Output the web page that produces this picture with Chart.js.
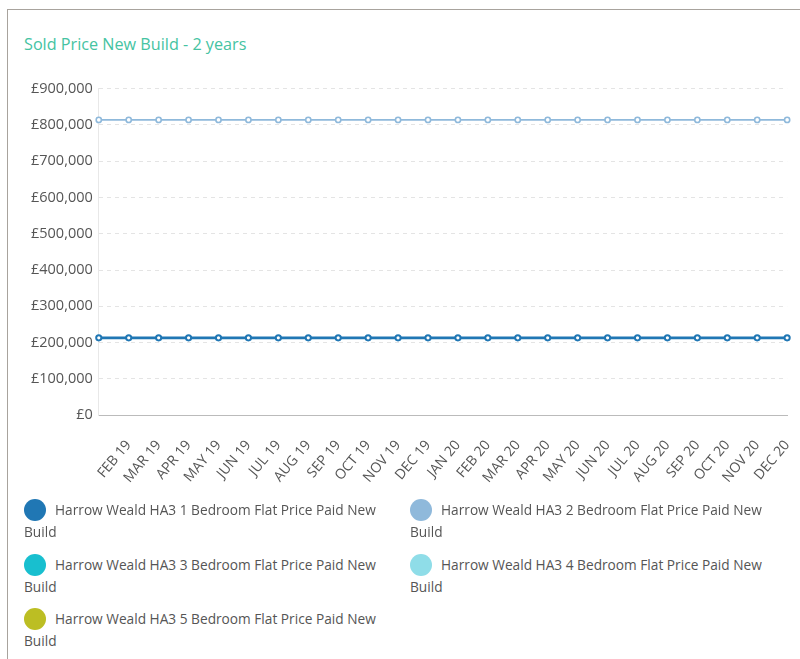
<!DOCTYPE html>
<html>
<head>
<meta charset="utf-8">
<script src="https://cdn.jsdelivr.net/npm/chart.js@4/dist/chart.umd.min.js"></script>
<style>
  html, body { margin: 0; padding: 0; background: #fff; width: 800px; height: 659px; overflow: hidden; }
  body { font-family: "Open Sans", Lato, sans-serif; }
  .card { position: absolute; left: 7px; top: 9px; width: 800px; height: 700px; border-top: 1px solid #a8a39d; border-left: 1px solid #a8a39d; }
  .title { position: absolute; left: 24px; top: 33px; font-size: 16.2px; color: #45c3a2; font-family: "Open Sans", sans-serif; }
  .chartbox { position: absolute; left: 25px; top: 74px; width: 789px; height: 426px; }
  .legend { position: absolute; left: 24px; top: 499px; width: 780px; font-size: 13.7px; color: #555; }
  .legend .item { position: absolute; width: 372px; line-height: 22px; }
  .legend .dot { display: inline-block; width: 22px; height: 22px; border-radius: 50%; vertical-align: -6px; margin-right: 9px; }
</style>
</head>
<body>
<div class="card"></div>
<div class="title">Sold Price New Build - 2 years</div>
<div class="chartbox"><canvas id="c"></canvas></div>
<div class="legend" id="legend"></div>
<script>
// first category has no visible label in the source chart
const months = ["","FEB 19","MAR 19","APR 19","MAY 19","JUN 19","JUL 19","AUG 19","SEP 19","OCT 19","NOV 19","DEC 19","JAN 20","FEB 20","MAR 20","APR 20","MAY 20","JUN 20","JUL 20","AUG 20","SEP 20","OCT 20","NOV 20","DEC 20"];
const seriesNames = [
  "Harrow Weald HA3 1 Bedroom Flat Price Paid New Build",
  "Harrow Weald HA3 2 Bedroom Flat Price Paid New Build",
  "Harrow Weald HA3 3 Bedroom Flat Price Paid New Build",
  "Harrow Weald HA3 4 Bedroom Flat Price Paid New Build",
  "Harrow Weald HA3 5 Bedroom Flat Price Paid New Build"
];
const bed1 = [213000,213000,213000,213000,213000,213000,213000,213000,213000,213000,213000,213000,213000,213000,213000,213000,213000,213000,213000,213000,213000,213000,213000,213000];
const bed2 = [814000,814000,814000,814000,814000,814000,814000,814000,814000,814000,814000,814000,814000,814000,814000,814000,814000,814000,814000,814000,814000,814000,814000,814000];
const bed3 = [];
const bed4 = [];
const bed5 = [];
const yTicks = [0,100000,200000,300000,400000,500000,600000,700000,800000,900000];
const colors = ["#2077b4","#8fb9db","#18bfcf","#8fdde8","#bcbe23"];
const lineWidths = [2.6,1.8,2,2,2];

const seriesData = [bed1,bed2,bed3,bed4,bed5];
const datasets = seriesData.map((d,i)=>({
  label: seriesNames[i],
  data: d,
  borderColor: colors[i],
  backgroundColor: "#ffffff",
  pointBorderColor: colors[i],
  pointBackgroundColor: "#ffffff",
  pointRadius: 2.6,
  pointBorderWidth: i === 0 ? 2 : 1.6,
  borderWidth: lineWidths[i],
  tension: 0,
  fill: false
}));

const fmt = v => "£" + v.toLocaleString("en-GB");

new Chart(document.getElementById("c"), {
  type: "line",
  data: { labels: months, datasets },
  options: {
    responsive: true,
    maintainAspectRatio: false,
    animation: false,
    layout: { padding: { left: 0, right: 6, top: 0, bottom: 0 } },
    plugins: { legend: { display: false }, tooltip: { enabled: false } },
    scales: {
      x: {
        offset: false,
        grid: { display: false },
        border: { display: true, color: "#bbbbbb", width: 1 },
        ticks: { color: "#555", font: { family: "'Open Sans', sans-serif", size: 14 }, minRotation: 50, maxRotation: 50, autoSkip: false, padding: 14 }
      },
      y: {
        min: 0, max: 900000,
        afterBuildTicks: axis => { axis.ticks = yTicks.map(v => ({ value: v })); },
        grid: { color: "#e4e4e4", lineWidth: 1, drawTicks: false },
        border: { display: true, color: "#e8e8e8", width: 1, dash: [4,4] },
        ticks: { color: "#555", font: { family: "'Open Sans', sans-serif", size: 14.5 }, padding: 6, callback: v => fmt(v) }
      }
    }
  }
});

const legend = document.getElementById("legend");
const pos = [[0,0],[386,0],[0,55],[386,55],[0,109]];
seriesNames.forEach((n,i)=>{
  const el = document.createElement("div");
  el.className = "item";
  el.style.left = pos[i][0] + "px";
  el.style.top = pos[i][1] + "px";
  const dot = document.createElement("span");
  dot.className = "dot";
  dot.style.background = colors[i];
  el.appendChild(dot);
  el.appendChild(document.createTextNode(n));
  legend.appendChild(el);
});
</script>
</body>
</html>
